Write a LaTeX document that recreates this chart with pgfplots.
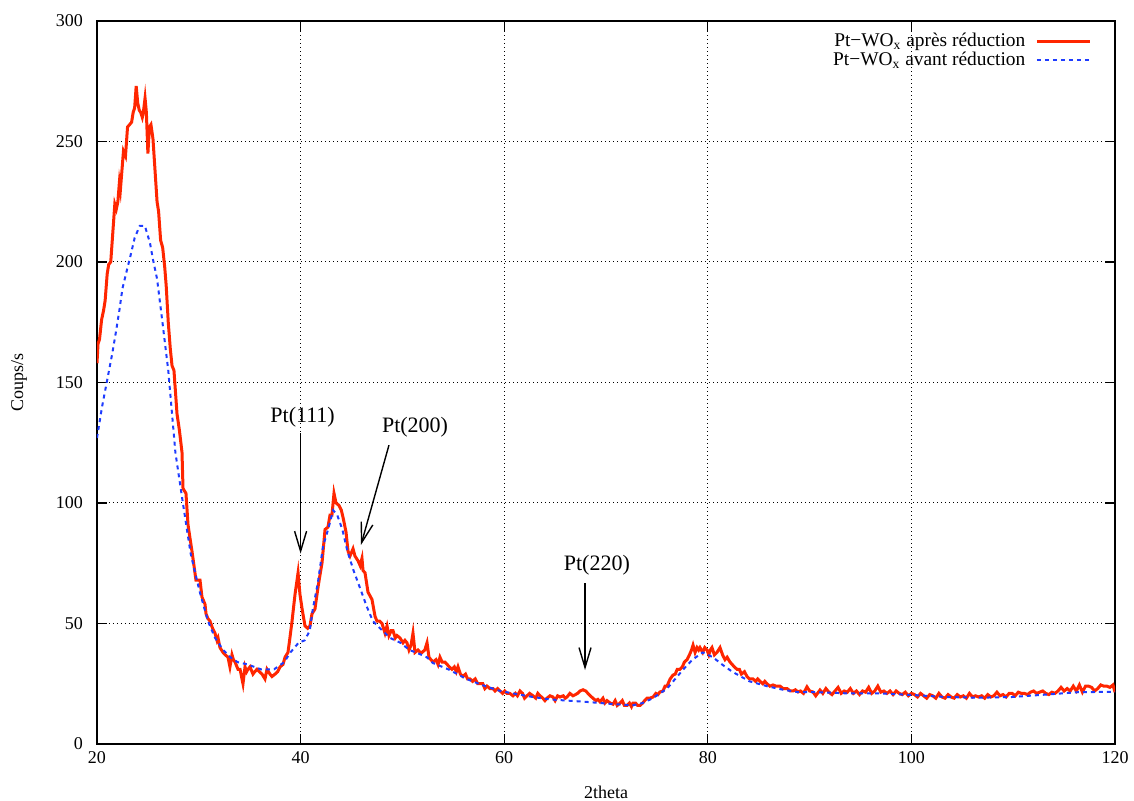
\documentclass[border=0pt]{standalone}
\usepackage{fontspec}
\setmainfont{Liberation Serif}
\usepackage{pgfplots}
\pgfplotsset{compat=1.18}
\usetikzlibrary{arrows.meta}
\definecolor{redc}{RGB}{255,38,0}
\definecolor{bluec}{RGB}{30,60,255}
\begin{document}
\begin{tikzpicture}
\begin{axis}[
  scale only axis,
  width=509pt, height=361.5pt,
  xmin=20, xmax=120, ymin=0, ymax=300,
  xtick={20,40,60,80,100,120},
  ytick={0,50,100,150,200,250,300},
  /pgf/number format/assume math mode=true,
  tick label style={font=\fontsize{9}{10}\selectfont},
  yticklabel style={xshift=-3.5pt},
  label style={font=\fontsize{9}{10}\selectfont},
  major tick length=5pt,
  tick style={black, line width=0.6pt},
  axis line style={line width=0.75pt},
  grid=major,
  grid style={black, line width=0.5pt, dash pattern=on 0.5pt off 1.5pt},
  xlabel={2theta},
  ylabel={Coups/s},
  xlabel style={at={(axis description cs:0.5,-0.0664)}, anchor=center},
  ylabel style={at={(axis description cs:-0.0766,0.5)}, anchor=center, rotate=0},
  legend plot pos=right,
  legend cell align=right,
  legend style={draw=none, fill=none, at={(axis description cs:0.983,0.995)}, anchor=north east,
    font=\fontsize{9.7}{10}\selectfont, row sep=-2.8pt,
    nodes={inner xsep=5pt}},
  legend image code/.code={\draw[#1] (0cm,0cm) -- (0.93cm,0cm);},
]
\addplot[redc, line width=1.5pt] coordinates {
(20.00,158) (20.10,166) (20.25,168) (20.45,176) (20.65,180) (20.80,184) (21.00,195) (21.15,199)
(21.35,200) (21.55,212) (21.75,224) (21.90,222) (22.05,225) (22.20,233) (22.30,230) (22.45,238)
(22.60,246) (22.80,244) (23.00,256) (23.20,257) (23.40,258) (23.55,262) (23.70,264) (23.85,273)
(24.00,266) (24.15,263) (24.30,262) (24.45,260) (24.55,262) (24.72,268) (24.85,262) (25.00,245)
(25.15,256) (25.30,257) (25.50,251) (25.70,238) (25.90,225) (26.05,221) (26.25,209) (26.45,206)
(26.65,198) (26.80,190) (27.00,175) (27.20,164) (27.37,157) (27.56,155) (27.86,137) (28.10,130)
(28.35,121) (28.45,106) (28.74,104) (28.94,91) (29.15,85) (29.33,80) (29.43,77) (29.72,68)
(30.12,68) (30.31,61) (30.61,58) (30.71,54) (30.90,52) (31.10,51) (31.35,48) (31.59,46)
(31.79,43) (31.89,44) (32.08,40) (32.38,38) (32.60,37) (32.87,36) (33.06,32) (33.26,37)
(33.40,35) (33.56,34) (33.85,31) (34.05,31) (34.34,25) (34.54,32) (34.70,30) (34.83,31)
(35.03,32) (35.32,29) (35.50,30) (35.72,31) (35.95,30) (36.21,29) (36.50,27) (36.70,31)
(36.99,29) (37.19,28) (37.49,29) (37.75,30) (37.98,32) (38.27,33) (38.47,36) (38.76,38)
(38.95,44) (39.16,51) (39.45,62) (39.75,71) (39.94,62) (40.15,56) (40.43,49) (40.70,48)
(40.92,49) (41.12,54) (41.41,56) (41.71,65) (41.90,70) (42.10,75) (42.40,89) (42.69,90)
(42.89,95) (43.08,95) (43.28,104) (43.48,100) (43.77,99) (44.00,97) (44.17,94) (44.46,88)
(44.66,80) (44.85,78) (45.15,81) (45.34,78) (45.64,76) (45.85,74) (46.03,77) (46.13,72)
(46.33,71) (46.62,63) (47.01,60) (47.31,53) (47.50,51) (47.75,51) (48.00,50) (48.29,46)
(48.49,49) (48.68,45) (48.90,47) (49.08,47) (49.30,44) (49.47,45) (49.76,44) (50.06,42)
(50.25,43) (50.45,42) (50.65,39) (50.85,41) (51.04,46) (51.24,38) (51.53,39) (51.75,38)
(51.93,38) (52.20,39) (52.42,42) (52.61,36) (52.80,35) (53.00,34) (53.30,35) (53.50,33)
(53.69,36) (53.90,34) (54.18,34) (54.40,33) (54.60,32) (54.87,31) (55.10,32) (55.30,30)
(55.46,32) (55.70,29) (55.95,28) (56.20,29) (56.40,27) (56.64,27) (56.90,26) (57.15,27)
(57.40,25) (57.62,25) (57.90,25) (58.10,23) (58.31,24) (58.60,23) (58.90,23) (59.10,22)
(59.35,23) (59.59,22) (59.85,21) (60.05,22) (60.27,21) (60.55,21) (60.86,20) (61.10,21)
(61.30,20) (61.55,22) (61.80,21) (62.00,19) (62.24,20) (62.50,21) (62.83,20) (63.10,19)
(63.30,21) (63.52,20) (63.80,19) (64.00,18) (64.20,19) (64.50,20) (64.79,19.5) (65.00,18)
(65.25,20) (65.48,19.5) (65.80,20) (66.00,19) (66.17,19.5) (66.45,21) (66.76,20) (67.00,20.5)
(67.20,21) (67.45,22) (67.74,22.5) (68.00,22) (68.23,21) (68.45,20) (68.72,19) (69.00,18)
(69.20,18.5) (69.41,17.5) (69.70,19) (69.90,17) (70.10,18) (70.40,17) (70.69,16.5) (70.90,18)
(71.10,16) (71.38,17) (71.60,18) (71.80,16) (72.06,16) (72.30,17) (72.50,15.5) (72.65,17)
(72.90,17) (73.10,16) (73.34,16) (73.60,17) (73.80,18) (74.03,19) (74.30,19) (74.62,19.5)
(74.90,21) (75.10,20.5) (75.30,21.6) (75.60,22) (75.80,24) (75.99,24) (76.30,27) (76.58,28.6)
(76.80,29) (77.00,31) (77.27,31) (77.50,32) (77.70,34) (77.96,35) (78.20,37) (78.40,39)
(78.55,41) (78.75,38) (78.94,40) (79.10,39) (79.23,40) (79.50,38) (79.70,40) (79.92,39)
(80.10,37) (80.25,39) (80.41,40) (80.65,37) (80.90,38) (81.05,39) (81.20,40) (81.45,37)
(81.69,35) (81.90,36) (82.18,34) (82.40,33) (82.60,32) (82.87,31) (83.10,31) (83.30,29)
(83.60,30) (83.85,28) (84.10,27) (84.44,27) (84.70,26) (84.90,27) (85.13,26) (85.40,25)
(85.60,26) (85.81,25) (86.10,24) (86.40,24.5) (86.70,24) (87.09,24) (87.40,23) (87.78,23)
(88.10,22) (88.37,22) (88.60,22.5) (88.86,21.6) (89.10,22) (89.40,21) (89.74,23.7) (90.00,22)
(90.33,21.6) (90.60,20) (91.02,22.4) (91.30,21) (91.60,23) (91.90,21.5) (92.20,20.5) (92.50,22)
(92.80,23.5) (93.10,21) (93.40,22) (93.70,21.5) (94.00,23) (94.30,21) (94.60,22) (94.90,20.5)
(95.20,22) (95.50,21.5) (95.80,23.5) (96.10,21) (96.40,22) (96.70,24) (97.00,21.5) (97.30,22)
(97.60,21) (97.90,22) (98.20,20.5) (98.50,22) (98.80,21) (99.10,20.5) (99.40,21.5) (99.70,20)
(100.00,21) (100.30,20.5) (100.60,19.5) (100.90,21) (101.20,20) (101.50,19) (101.80,20.5) (102.10,20)
(102.40,19) (102.70,21) (103.00,19.5) (103.30,19) (103.60,20.5) (103.90,19.5) (104.20,19) (104.50,20.5)
(104.80,19.5) (105.10,20) (105.40,19) (105.70,21) (106.00,19.5) (106.30,20) (106.60,19.5) (106.90,20)
(107.20,19) (107.50,20.5) (107.80,19.5) (108.10,20) (108.40,21.5) (108.70,20) (109.00,20.5) (109.30,19.5)
(109.60,21) (109.90,21) (110.20,20) (110.50,21.5) (110.80,21) (111.10,21) (111.40,20.5) (111.70,21.5)
(112.00,22) (112.30,21) (112.60,21.5) (112.90,22) (113.20,21) (113.50,20.5) (113.80,21.5) (114.10,21)
(114.40,22) (114.70,23.5) (115.00,22) (115.30,23) (115.60,22) (115.90,24) (116.20,22) (116.50,24.5)
(116.80,21.5) (117.10,24) (117.40,24) (117.70,23.5) (118.00,22) (118.30,23) (118.60,24.5) (118.90,24)
(119.20,24) (119.50,23.5) (119.80,24.5) (120.00,21.5)
};
\addlegendentry{Pt−WO\textsubscript{x} après réduction}
\addplot[bluec, line width=1pt, dash pattern=on 2pt off 2pt] coordinates {
(20.0,127) (20.5,140) (21.0,151) (21.5,162) (21.9,172) (22.2,180) (22.5,189) (22.9,196) (23.2,201)
(23.7,210) (24.2,215) (24.7,215) (25.2,208) (25.5,201) (25.9,193) (26.4,176) (27.0,155)
(27.7,121) (28.4,101) (29.2,79) (29.7,70) (30.1,63) (30.9,51) (31.6,44) (32.4,39) (33.1,36)
(33.8,34) (34.8,33) (36.1,31) (37.4,31) (38.4,34) (39.0,38) (39.4,40) (39.8,42) (40.4,43)
(40.9,47) (41.2,56) (41.7,67) (42.2,82) (42.7,89) (43.2,97) (43.6,95) (44.1,89) (44.6,80)
(45.2,72) (45.9,64) (46.5,57) (47.1,51) (47.8,48) (48.8,44) (49.8,42) (50.7,39) (51.6,37.5)
(52.4,36) (53.0,33.6) (54.5,31) (56.3,27) (57.8,24.5) (59.6,22) (61.5,20.5) (62.8,19.5)
(64.5,18.5) (66.2,18) (68.0,17.5) (69.4,17) (71.0,16.5) (72.6,16) (73.6,17) (74.6,19) (76.0,23)
(77.6,31) (78.5,35) (79.5,38) (80.5,36) (81.4,33) (82.4,30) (84.1,26) (85.8,24) (87.4,22.5)
(88.9,21.5) (90.5,21.5) (92.0,21.3) (93.7,21) (96.9,21) (100.2,20.3) (103.4,19.5) (106.6,19.2)
(109.9,19.5) (113.2,20.5) (116.4,21.5) (118.5,21.6) (120.0,21.6)
};
\addlegendentry{Pt−WO\textsubscript{x} avant réduction}
\draw[line width=0.7pt, -{Straight Barb[length=10pt,width=6pt]}] (axis cs:40,129) -- (axis cs:40,79);
\node[font=\fontsize{11}{12}\selectfont] at (axis cs:40.2,135.7) {Pt(111)};
\draw[line width=0.7pt, -{Straight Barb[length=10pt,width=6pt]}] (axis cs:48.68,124) -- (axis cs:45.93,82.6);
\node[font=\fontsize{11}{12}\selectfont] at (axis cs:51.24,131.5) {Pt(200)};
\draw[line width=0.7pt, -{Straight Barb[length=10pt,width=6pt]}] (axis cs:67.94,66.8) -- (axis cs:67.94,30.7);
\node[font=\fontsize{11}{12}\selectfont] at (axis cs:69.1,74.3) {Pt(220)};
\coordinate (SW) at (rel axis cs:0,0);
\coordinate (NE) at (rel axis cs:1,1);
\end{axis}
\pgfresetboundingbox
\path ([shift={(-48.5pt,-28.5pt)}]SW) rectangle ([shift={(9.5pt,10.5pt)}]NE);
\end{tikzpicture}
\end{document}
